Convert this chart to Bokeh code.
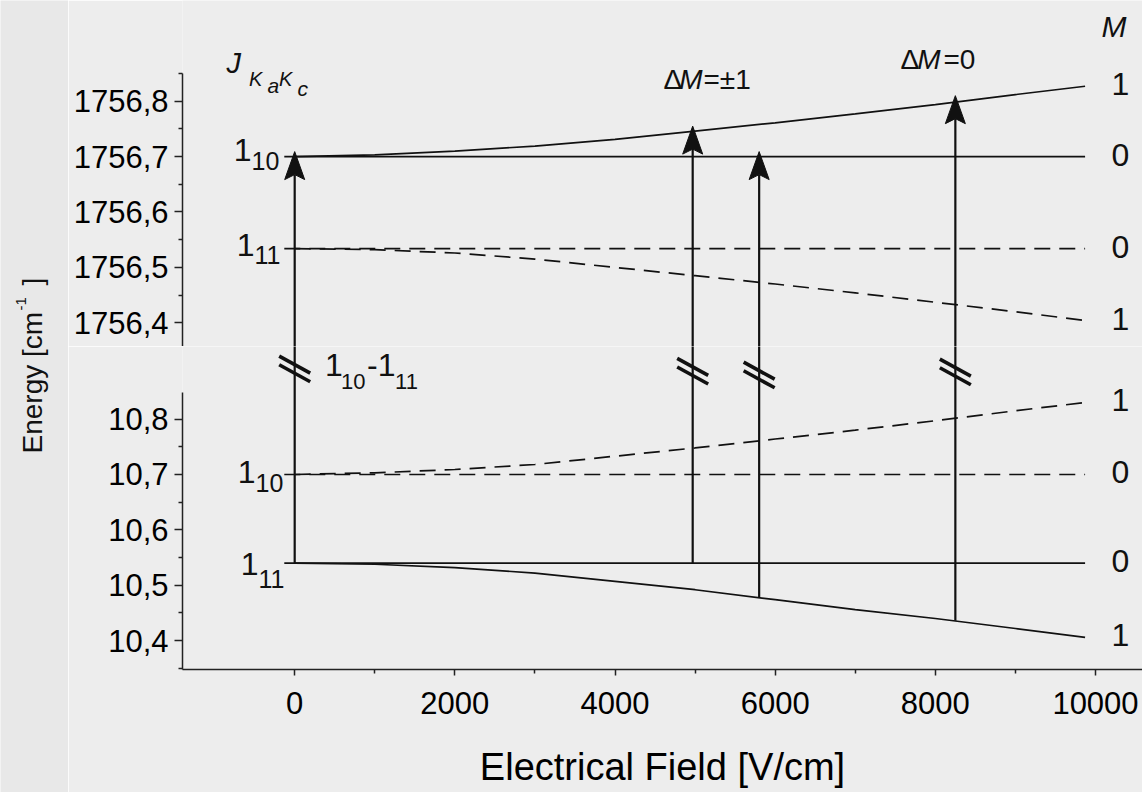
import numpy as np
from bokeh.plotting import figure
from bokeh.models import Range1d, FixedTicker, CustomJSTickFormatter
from bokeh.layouts import row, column
from bokeh.embed import file_html
from bokeh.resources import INLINE
from bokeh.core.properties import value

# ---------------- data ----------------
field = [0, 1000, 2000, 3000, 4000, 5000, 6000, 7000, 8000, 9000, 9870]
# upper panel (1756 cm-1 region)
up_110_m1 = [1756.700, 1756.703, 1756.710, 1756.719, 1756.731, 1756.746,
             1756.761, 1756.777, 1756.794, 1756.812, 1756.827]
up_111_m1 = [1756.534, 1756.532, 1756.526, 1756.515, 1756.500, 1756.485,
             1756.470, 1756.454, 1756.437, 1756.420, 1756.404]
# lower panel (10 cm-1 region)
lo_110_m1 = [10.700, 10.703, 10.709, 10.718, 10.733, 10.748,
             10.764, 10.780, 10.797, 10.815, 10.830]
lo_111_m1 = [10.540, 10.538, 10.532, 10.522, 10.507, 10.492,
             10.474, 10.456, 10.440, 10.422, 10.406]
level_x = [-130, 9870]
up_110_m0 = 1756.700
up_111_m0 = 1756.534
lo_110_m0 = 10.700
lo_111_m0 = 10.540

# transitions
arrow_x = [0, 4970, 5800, 8250]
arrow_lo = [10.540, 10.540, 10.477, 10.436]
arrow_hi = [1756.700, 1756.746, 1756.700, 1756.801]
# where the axis-break marks sit (above the lower axis, in lower-panel units)
break_y = [10.8904, 10.8865, 10.8796, 10.8850]

x_ticks = [0, 2000, 4000, 6000, 8000, 10000]
x_minor = [1000, 3000, 5000, 7000, 9000]
up_ticks = [1756.4, 1756.5, 1756.6, 1756.7, 1756.8]
up_minor = [1756.45, 1756.55, 1756.65, 1756.75, 1756.85]
lo_ticks = [10.4, 10.5, 10.6, 10.7, 10.8]
lo_minor = [10.35, 10.45, 10.55, 10.65, 10.75]

# ---------------- style ----------------
BG = "#ededed"
BG_LAB = "#e8e8e8"
FONT = "Liberation Sans"
INK = "#111111"
W_LAB = 68
FRAME_W = 960
LEFT = 114
UP_H = 346
LO_H = 323
BOT = 123
PX_X = 12.4875      # data units of field per screen pixel
PX_Y = 1.0 / 554.0  # data units of energy per screen pixel
DASH = "16 9"

x_rng = Range1d(-1401, 10587)
comma_fmt = CustomJSTickFormatter(code="return tick.toFixed(1).replace('.', ',');")


def style_axis(ax, tick_out, standoff):
    ax.axis_line_color = "#222222"
    ax.axis_line_width = 1.5
    ax.major_tick_line_color = "#222222"
    ax.major_tick_line_width = 1.5
    ax.minor_tick_line_color = "#222222"
    ax.minor_tick_line_width = 1.5
    ax.major_tick_in = 0
    ax.major_tick_out = tick_out
    ax.minor_tick_in = 0
    ax.minor_tick_out = 4
    ax.major_label_text_font = FONT
    ax.major_label_text_font_size = "31px"
    ax.major_label_text_color = "#000000"
    ax.major_label_standoff = standoff


def txt(f, x, y, s, size, style="normal", align="left", angle=0.0):
    f.text(x=[x], y=[y], text=[s], text_font=value(FONT),
           text_font_size=value(f"{size}px"), text_font_style=value(style),
           text_align=value(align), text_baseline=value("middle"),
           text_color=INK, angle=angle)


def common(f, bg=BG):
    f.grid.visible = False
    f.background_fill_color = bg
    f.border_fill_color = bg
    f.outline_line_color = None


# ---------------- upper panel ----------------
up = figure(output_backend="svg", toolbar_location=None, frame_width=FRAME_W,
            frame_height=UP_H, x_range=x_rng, y_range=Range1d(1756.3572, 1756.9818),
            x_axis_location=None, min_border_left=LEFT, min_border_right=0,
            min_border_top=0, min_border_bottom=0)
common(up)
style_axis(up.yaxis[0], 8, 6)
up.yaxis[0].formatter = comma_fmt
up.yaxis[0].ticker = FixedTicker(ticks=up_ticks, minor_ticks=up_minor)
up.yaxis[0].bounds = (1756.35, 1756.85)

# ---------------- lower panel ----------------
lo = figure(output_backend="svg", toolbar_location=None, frame_width=FRAME_W,
            frame_height=LO_H, x_range=x_rng, y_range=Range1d(10.348, 10.9310),
            min_border_left=LEFT, min_border_right=0, min_border_top=0,
            min_border_bottom=BOT)
common(lo)
style_axis(lo.yaxis[0], 8, 6)
lo.yaxis[0].formatter = comma_fmt
lo.yaxis[0].ticker = FixedTicker(ticks=lo_ticks, minor_ticks=lo_minor)
lo.yaxis[0].bounds = (10.348, 10.848)
xa = lo.xaxis[0]
style_axis(xa, 6, 16)
xa.ticker = FixedTicker(ticks=x_ticks, minor_ticks=x_minor)
xa.formatter = CustomJSTickFormatter(code="return tick.toFixed(0);")
xa.axis_label = "Electrical Field [V/cm]"
xa.axis_label_text_font = FONT
xa.axis_label_text_font_size = "38px"
xa.axis_label_text_font_style = "normal"
xa.axis_label_text_color = "#000000"
xa.axis_label_standoff = 29

# ---------------- energy levels ----------------
LW = 1.7
up.line(field, up_110_m1, line_color=INK, line_width=LW)
up.line(level_x, [up_110_m0] * 2, line_color=INK, line_width=LW)
up.line(level_x, [up_111_m0] * 2, line_color=INK, line_width=LW, line_dash=DASH)
up.line(field, up_111_m1, line_color=INK, line_width=LW, line_dash=DASH)

lo.line(field, lo_110_m1, line_color=INK, line_width=LW, line_dash=DASH)
lo.line(level_x, [lo_110_m0] * 2, line_color=INK, line_width=LW, line_dash=DASH)
lo.line(level_x, [lo_111_m0] * 2, line_color=INK, line_width=LW)
lo.line(field, lo_111_m1, line_color=INK, line_width=LW)

# ---------------- transition arrows ----------------
ax_arr = np.array(arrow_x, dtype=float)
hi_arr = np.array(arrow_hi)
tip = hi_arr + 5 * PX_Y
notch = tip - 23 * PX_Y
base = tip - 28 * PX_Y
lo.segment(x0=ax_arr, y0=arrow_lo, x1=ax_arr, y1=[11.0] * len(ax_arr),
           line_color=INK, line_width=2.2)
up.segment(x0=ax_arr, y0=[1756.30] * len(ax_arr), x1=ax_arr, y1=notch,
           line_color=INK, line_width=2.2)
head_xs = [[x, x - 10 * PX_X, x, x + 10 * PX_X] for x in ax_arr]
head_ys = [[t, b, n, b] for t, b, n in zip(tip, base, notch)]
up.patches(head_xs, head_ys, fill_color=INK, line_color=INK, line_width=1)

# axis-break marks on the arrows
bx0, bx1, by0, by1 = [], [], [], []
for x, yb in zip(ax_arr, break_y):
    for k in (-4.3, 4.3):
        c = yb + k * PX_Y
        bx0.append(x - 15.5 * PX_X)
        bx1.append(x + 15.5 * PX_X)
        by0.append(c + 8.5 * PX_Y)
        by1.append(c - 8.5 * PX_Y)
lo.segment(x0=bx0, y0=by0, x1=bx1, y1=by1, line_color=INK, line_width=3.6)

# ---------------- texts, upper panel ----------------
txt(up, -852, 1756.8681, "J", 29, "italic")
txt(up, -571, 1756.8401, "K", 20, "italic")
txt(up, -340, 1756.8290, "a", 21, "italic")
txt(up, -196, 1756.8401, "K", 20, "italic")
txt(up, 35, 1756.8235, "c", 21, "italic")

# level labels
txt(up, -539, 1756.7128, "1", 32, align="right")
txt(up, -539, 1756.6912, "10", 25)
txt(up, -502, 1756.5404, "1", 32, align="right")
txt(up, -502, 1756.5215, "11", 25)

# selection rule labels
txt(up, 4605, 1756.8399, "\u0394", 28)
txt(up, 4801, 1756.8399, "M", 28, "italic")
txt(up, 5105, 1756.8399, "=\u00b11", 28)
txt(up, 7565, 1756.8760, "\u0394", 28)
txt(up, 7773, 1756.8760, "M", 28, "italic")
txt(up, 8101, 1756.8760, "=0", 28)

# M column
txt(up, 10075, 1756.9349, "M", 30, "italic")
m_up_vals = [up_110_m1[-1], up_110_m0, up_111_m0, up_111_m1[-1]]
m_up_txt = ["1", "0", "0", "1"]
for v, s in zip(m_up_vals, m_up_txt):
    txt(up, 10312, v + 2 * PX_Y, s, 32, align="center")

# ---------------- texts, lower panel ----------------
# transition label in the gap
txt(lo, 378, 10.8977, "1", 32)
txt(lo, 579, 10.8670, "10", 22)
txt(lo, 903, 10.8977, "-1", 32)
txt(lo, 1254, 10.8670, "11", 22)

txt(lo, -489, 10.7045, "1", 32, align="right")
txt(lo, -489, 10.6847, "10", 25)
txt(lo, -452, 10.5385, "1", 32, align="right")
txt(lo, -452, 10.5105, "11", 25)
m_lo_vals = [lo_110_m1[-1], lo_110_m0, lo_111_m0, lo_111_m1[-1]]
m_lo_txt = ["1", "0", "0", "1"]
for v, s in zip(m_lo_vals, m_lo_txt):
    txt(lo, 10312, v + 2 * PX_Y, s, 32, align="center")

# ---------------- y-axis title strip ----------------
H_TOT = UP_H + LO_H + BOT
lab = figure(output_backend="svg", toolbar_location=None, width=W_LAB, height=H_TOT,
             x_range=Range1d(0, W_LAB), y_range=Range1d(0, H_TOT),
             x_axis_location=None, y_axis_location=None, min_border=0)
common(lab, BG_LAB)
txt(lab, 31.5, H_TOT - 453, "Energy [cm", 28, angle=np.pi / 2)
txt(lab, 20, H_TOT - 310, "-1", 15, angle=np.pi / 2)
txt(lab, 31.5, H_TOT - 285, "]", 28, angle=np.pi / 2)

layout = row(lab, column(up, lo))
open("out.html", "w").write(file_html(layout, INLINE))
